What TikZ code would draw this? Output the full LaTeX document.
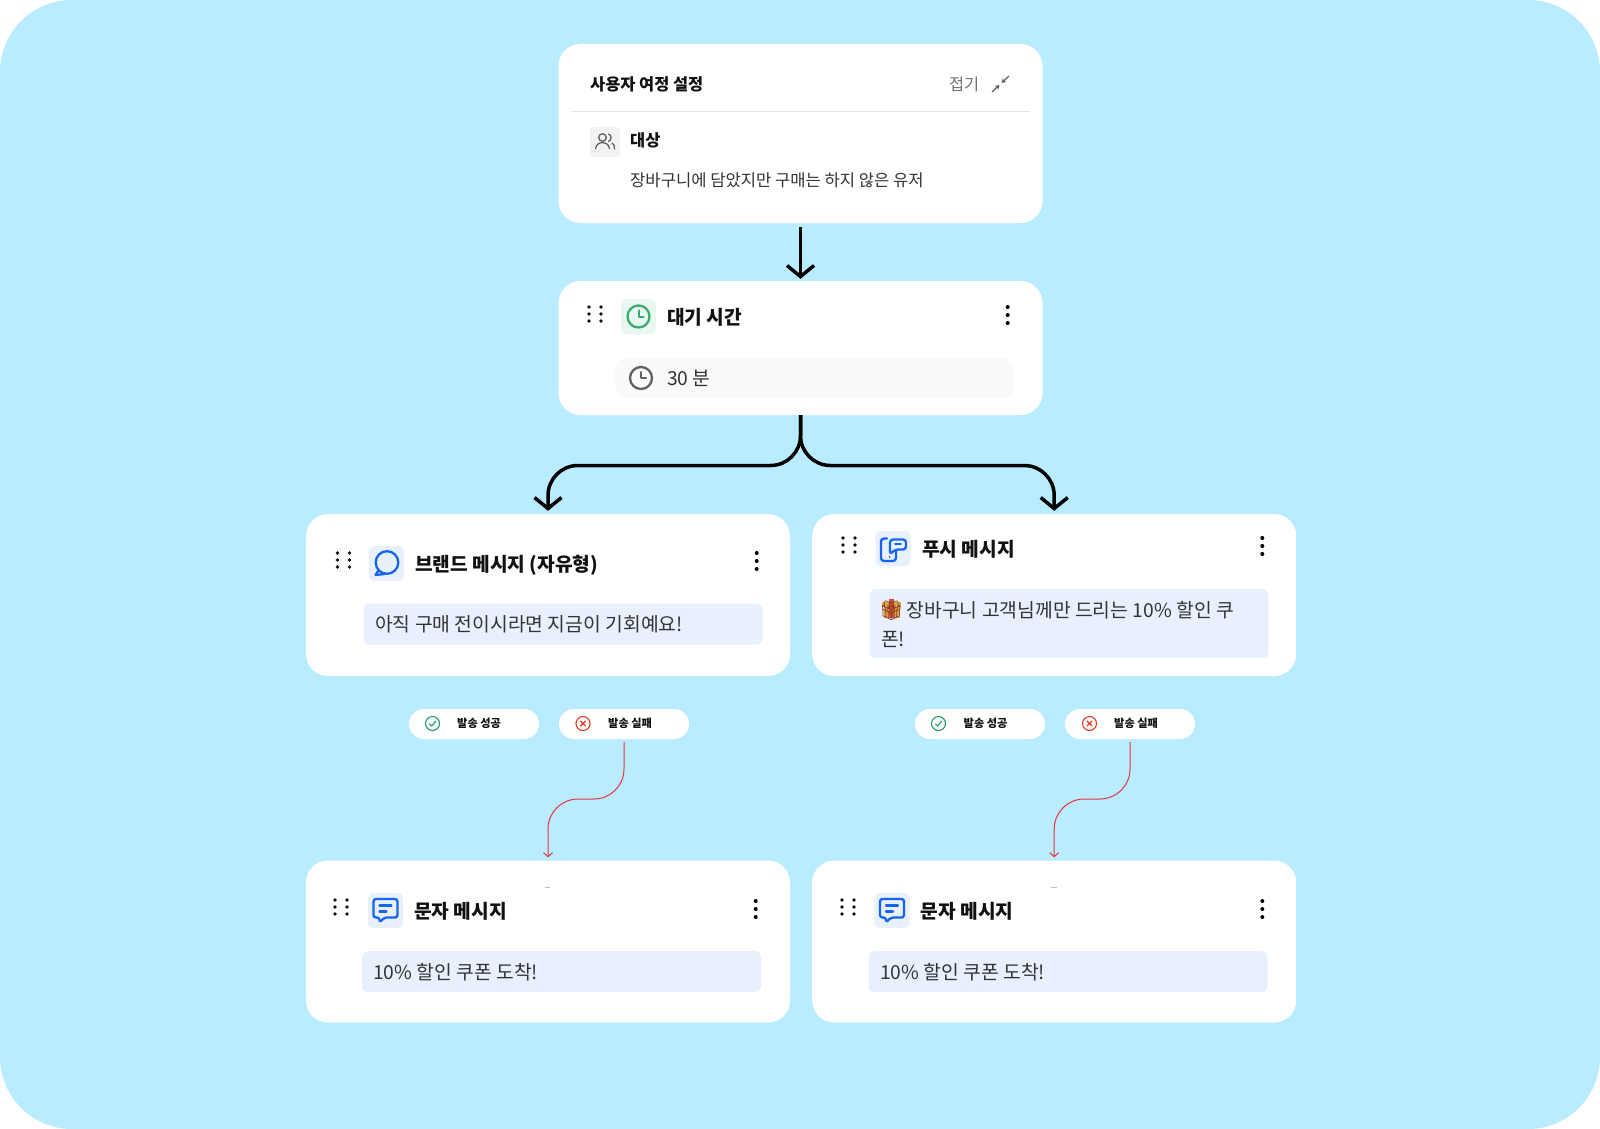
\documentclass[tikz,border=0pt]{standalone}
\usepackage{fontspec}
\usetikzlibrary{arrows.meta}
\setmainfont{Noto Sans CJK KR}
\newfontfamily\emojifont{Noto Emoji}
\definecolor{sky}{HTML}{BAECFF}
\definecolor{tint}{HTML}{E8F0FE}
\definecolor{mint}{HTML}{E8F8F0}
\definecolor{leaf}{HTML}{3DAA70}
\definecolor{royal}{HTML}{1565F0}
\definecolor{okgreen}{HTML}{1E9E63}
\definecolor{failred}{HTML}{E5391F}
\definecolor{failline}{HTML}{E8323C}
\definecolor{giftgold}{HTML}{DDA540}
\definecolor{giftred}{HTML}{C8503A}
\definecolor{ink}{HTML}{111111}
\definecolor{body}{HTML}{333333}
\tikzset{
  cardbox/.style={fill=white,rounded corners=22pt,inner sep=0pt,minimum width=484pt},
  chipbox/.style={fill=white,rounded corners=15pt,inner sep=0pt,minimum width=130pt,minimum height=30pt},
  iconbox/.style={fill=tint,rounded corners=5pt,inner sep=0pt,minimum size=35pt},
  msgbox/.style={fill=tint,rounded corners=6pt,inner sep=0pt,minimum width=399pt,minimum height=41pt},
  headtext/.style={anchor=west,inner sep=0pt,text=ink,font=\fontsize{19.2}{24}\selectfont\bfseries},
  smalltitle/.style={anchor=west,inner sep=0pt,text=ink,font=\fontsize{16.4}{20}\selectfont\bfseries},
  msgtext/.style={anchor=west,inner sep=0pt,text=body,font=\fontsize{19.3}{29}\selectfont},
  chiptext/.style={anchor=west,inner sep=0pt,text=ink,font=\fontsize{11.2}{12}\selectfont\bfseries},
  flow/.style={draw=black,line width=3.5pt,-{Straight Barb[length=11pt,width=27pt]}},
  failflow/.style={draw=failline,line width=1pt,-{Straight Barb[length=4pt,width=9pt]}},
  foldarrow/.style={draw=black!60,line width=1.3pt,-{Stealth[length=4.5pt,width=5.5pt]}},
  clockicon/.pic={\draw[line width=2.3pt] (0,0) circle (11);
    \draw[line width=2pt,line cap=round,line join=round] (0,-6) -- (0,0) -- (5,0);},
  okicon/.pic={\draw[okgreen,line width=1.1pt] (0,0) circle (7);
    \draw[okgreen,line width=1.1pt,line cap=round,line join=round] (-3,0.5) -- (-0.8,2.6) -- (3.2,-2.4);},
  failicon/.pic={\draw[failred,line width=1.1pt] (0,0) circle (7);
    \draw[failred,line width=1.3pt,line cap=round] (-2.4,-2.4) -- (2.4,2.4) (-2.4,2.4) -- (2.4,-2.4);},
  bubbleicon/.pic={\draw[royal,line width=2.3pt] (0.5,-1) circle (11.3);
    \draw[royal,line width=2.3pt,line join=round,line cap=round] (-8,7) -- (-11,11.5) -- (-2,10.5);},
  texticon/.pic={\draw[royal,line width=2.3pt,rounded corners=2.5pt,line join=round] (-12,-9.5) -- (12,-9.5) -- (12,9) -- (-1,9) -- (-6,14) -- (-6,9) -- (-12,9) -- cycle;
    \draw[royal,line width=2.3pt,line cap=round] (-6,-3) -- (6,-3) (-6,3) -- (1,3);},
  pushicon/.pic={\draw[royal,line width=2.3pt,rounded corners=3pt,line cap=round] (-6,-10) -- (-12,-10) -- (-12,12.5) -- (3,12.5) -- (3,2);
    \draw[royal,line width=2.3pt,rounded corners=3pt,line join=round] (-3,6) -- (-3,-9) -- (13,-9) -- (13,1) -- (2,1) -- cycle;
    \draw[royal,line width=1.6pt,line cap=round] (2,-4.5) -- (8,-4.5);
    \fill[royal] (-3.5,8.5) circle (1);},
}
\newcommand{\dragdots}[2]{\foreach \dotx in {0,12}{\foreach \doty in {0,7,14}{\fill[ink] (#1+\dotx,#2+\doty) circle (1.9);}}}
\newcommand{\kebabdots}[2]{\foreach \doty in {0,8,16}{\fill[black] (#1,#2+\doty) circle (2);}}
\begin{document}
\begin{tikzpicture}[x=1pt,y=-1pt]
\useasboundingbox (0,0) rectangle (1600,1129);
\fill[white] (0,0) rectangle (1600,1129);
\fill[sky,rounded corners=72pt] (0,0) rectangle (1600,1129);
% journey settings
\node[cardbox,minimum height=179pt] (targetcard) at (800.5,133.5) {};
\node[smalltitle] (journeytitle) at (590,84.5) {사용자 여정 설정};
\node[anchor=east,inner sep=0pt,text=black!55,font=\fontsize{16.4}{20}\selectfont] (foldtext) at (979.5,84.5) {접기};
\draw[foldarrow] (1009,76) -- (1001.5,83);
\draw[foldarrow] (992,92) -- (999.5,85);
\draw[black!10,line width=1pt] (571,111.5) -- (1030,111.5);
\node[fill=black!5,rounded corners=4pt,inner sep=0pt,minimum size=30pt] (peoplebox) at (605,142) {};
\draw[black!65,line width=1.2pt] (602.5,137.5) circle (3.8) (595.5,149) .. controls (596,140.5) and (609,140.5) .. (609.5,149);
\draw[black!65,line width=1.2pt,line cap=round] (608.5,134) .. controls (612,135) and (612,140) .. (608.5,141.5) (612,143) .. controls (614,144) and (614.5,146) .. (614.5,149);
\node[smalltitle] (targetlabel) at (630,140.5) {대상};
\node[anchor=west,inner sep=0pt,text=body,font=\fontsize{16.6}{20}\selectfont] (targettext) at (630,180.5) {장바구니에 담았지만 구매는 하지 않은 유저};
% wait
\node[cardbox,minimum height=134pt] (waitcard) at (800.5,348) {};
\dragdots{589}{307}
\node[fill=mint,rounded corners=5pt,inner sep=0pt,minimum size=35pt] (waiticon) at (638.5,316.5) {};
\pic[color=leaf] at (638.5,316.5) {clockicon};
\node[headtext] (waittitle) at (667,317) {대기 시간};
\kebabdots{1007.7}{307}
\node[fill=black!2,rounded corners=12pt,inner sep=0pt,minimum width=399pt,minimum height=40pt] (waitbox) at (814.5,378) {};
\pic[color=black!62] at (641,378) {clockicon};
\node[msgtext] (waittext) at (667,378) {30 분};
% brand message
\node[cardbox,minimum height=162pt] (brandcard) at (548,595) {};
\dragdots{337.5}{553}
\node[iconbox] (brandicon) at (386.5,563.5) {};
\pic at (386.5,563.5) {bubbleicon};
\node[headtext] (brandtitle) at (415,565) {브랜드 메시지 (자유형)};
\kebabdots{756.7}{553}
\node[msgbox] (brandbox) at (563,624) {};
\node[msgtext] (brandtext) at (375,624.5) {아직 구매 전이시라면 지금이 기회예요!};
% push message
\node[cardbox,minimum height=162pt] (pushcard) at (1054.2,595) {};
\dragdots{843}{538}
\node[iconbox] (pushbox) at (893,548.5) {};
\pic at (893,548.5) {pushicon};
\node[headtext] (pushtitle) at (922,549.5) {푸시 메시지};
\kebabdots{1262.3}{538}
\node[msgbox,minimum height=69pt] (pushmsgbox) at (1069,623.5) {};
\fill[giftgold] (883.5,606) rectangle (899.5,618);
\fill[giftgold] (882,602) rectangle (901,607);
\fill[giftred] (889,599) rectangle (894,618);
\node[msgtext,align=left] (pushtext) at (881,624) {\kern-2pt{\emojifont\color{giftred!70!black}🎁}\kern3pt 장바구니 고객님께만 드리는 10\% 할인 쿠\\폰!};
% send results
\node[chipbox] (brandok) at (474,724) {};
\pic at (432.5,723.5) {okicon};
\node[chiptext] (brandoktext) at (457,723.5) {발송 성공};
\node[chipbox] (brandfail) at (624,724) {};
\pic at (583,723.5) {failicon};
\node[chiptext] (brandfailtext) at (608,723.5) {발송 실패};
\node[chipbox] (pushok) at (980,724) {};
\pic at (938.5,723.5) {okicon};
\node[chiptext] (pushoktext) at (963.5,723.5) {발송 성공};
\node[chipbox] (pushfail) at (1130,724) {};
\pic at (1089.5,723.5) {failicon};
\node[chiptext] (pushfailtext) at (1114,723.5) {발송 실패};
% text messages
\node[cardbox,minimum height=162pt] (brandsms) at (548,941.5) {};
\dragdots{335}{900}
\node[iconbox] (brandsmsicon) at (385.5,910.5) {};
\pic at (385.5,908.5) {texticon};
\node[headtext] (brandsmstitle) at (414,911) {문자 메시지};
\kebabdots{755.7}{901}
\node[msgbox] (brandsmsbox) at (561.5,971.5) {};
\node[msgtext] (brandsmstext) at (373,972) {10\% 할인 쿠폰 도착!};
\node[cardbox,minimum height=162pt] (pushsms) at (1054.2,941.5) {};
\dragdots{842}{900}
\node[iconbox] (pushsmsicon) at (892,910.5) {};
\pic at (892,908.5) {texticon};
\node[headtext] (pushsmstitle) at (920.5,911) {문자 메시지};
\kebabdots{1262.3}{901}
\node[msgbox] (pushsmsbox) at (1068,971.5) {};
\node[msgtext] (pushsmstext) at (880,972) {10\% 할인 쿠폰 도착!};
\draw[black!25,line width=.7pt] (544.5,887.5) -- (550,887.5);
\draw[black!25,line width=.7pt] (1051,887.5) -- (1056.5,887.5);
% connectors
\coordinate (forkmid) at (800.5,465.5);
\draw[flow,shorten <=4pt,shorten >=2pt] (targetcard.south) -- (waitcard.north);
\draw[flow,rounded corners=30pt,shorten >=3pt] (waitcard.south) -- (forkmid) -| (brandcard.north);
\draw[flow,rounded corners=30pt,shorten >=3pt] (waitcard.south) -- (forkmid) -| (pushcard.north);
\coordinate (brandturn) at (624,799);
\coordinate (pushturn) at (1130,799);
\draw[failflow,rounded corners=30pt,shorten <=3pt,shorten >=3pt] (brandfail.south) -- (brandturn) -| (brandsms.north);
\draw[failflow,rounded corners=30pt,shorten <=3pt,shorten >=3pt] (pushfail.south) -- (pushturn) -| (pushsms.north);
\end{tikzpicture}
\end{document}
